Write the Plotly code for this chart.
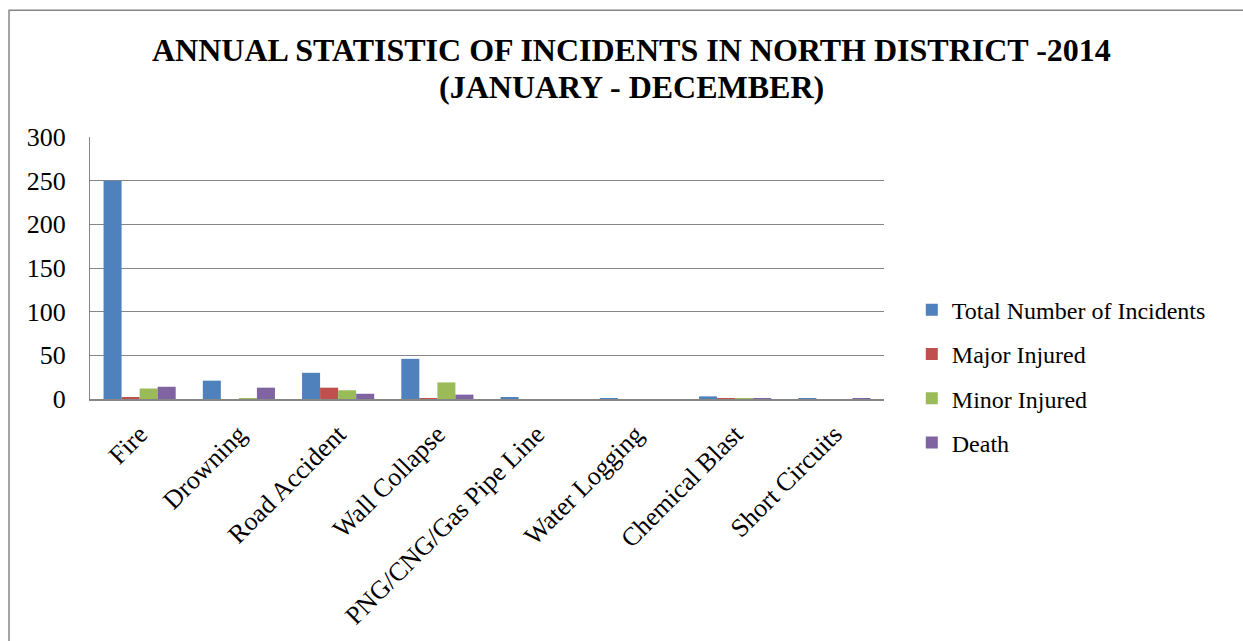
import plotly.graph_objects as go

categories = ["Fire", "Drowning", "Road Accident", "Wall Collapse",
              "PNG/CNG/Gas Pipe Line", "Water Logging", "Chemical Blast",
              "Short Circuits"]
total_incidents = [250, 21, 30, 46, 2, 1, 3, 1]
major_injured = [2, 0, 13, 1, 0, 0, 1, 0]
minor_injured = [12, 1, 10, 19, 0, 0, 1, 0]
death = [14, 13, 6, 5, 0, 0, 1, 1]

series_names = ["Total Number of Incidents", "Major Injured", "Minor Injured", "Death"]
series_values = [total_incidents, major_injured, minor_injured, death]
series_colors = ["#4F81BD", "#C0504D", "#9BBB59", "#8064A2"]

title_lines = ["ANNUAL STATISTIC OF INCIDENTS IN NORTH DISTRICT -2014",
               "(JANUARY - DECEMBER)"]

FONT = "Liberation Serif, Times New Roman, serif"

fig = go.Figure()
for name, vals, col in zip(series_names, series_values, series_colors):
    fig.add_trace(go.Bar(x=categories, y=vals, name=name, legendgroup=name,
                         marker=dict(color=col, line=dict(width=0))))

fig.update_layout(
    width=1243, height=641,
    margin=dict(l=90, r=359, t=137, b=242, autoexpand=False),
    paper_bgcolor="white", plot_bgcolor="white",
    barmode="group", bargap=0.273, bargroupgap=0,
    font=dict(family=FONT, size=22, color="black"),
    legend=dict(
        x=1.035, xanchor="left", y=0.087, yanchor="middle",
        font=dict(family=FONT, size=24, color="black"),
        traceorder="grouped", tracegroupgap=10,
        bgcolor="rgba(0,0,0,0)",
    ),
    showlegend=True,
)

# two-line bold title
for line, ypos in zip(title_lines, [1.332, 1.191]):
    fig.add_annotation(text="<b>%s</b>" % line, xref="paper", yref="paper",
                       x=0.6826, y=ypos, xanchor="center", yanchor="middle",
                       showarrow=False,
                       font=dict(family=FONT, size=32, color="black"))

fig.update_yaxes(
    range=[0, 300], dtick=50, automargin=False,
    showgrid=True, gridcolor="#868686", gridwidth=1.3,
    showline=True, linecolor="#868686", linewidth=1.3,
    ticks="outside", ticklen=18, tickcolor="rgba(0,0,0,0)",
    zeroline=False,
    tickfont=dict(family=FONT, size=26, color="black"),
)
fig.update_xaxes(
    automargin=False,
    showline=True, linecolor="#868686", linewidth=1.5,
    tickangle=-45, showgrid=False,
    ticks="outside", ticklen=8, tickcolor="rgba(0,0,0,0)",
    tickfont=dict(family=FONT, size=26, color="black"),
)

# outer chart frame
fig.add_shape(type="rect", xref="paper", yref="paper",
              x0=-0.102, x1=1.6, y0=-1.5, y1=1.484,
              line=dict(color="#868686", width=1.5), fillcolor="rgba(0,0,0,0)",
              layer="below")

fig.write_html("out.html")
